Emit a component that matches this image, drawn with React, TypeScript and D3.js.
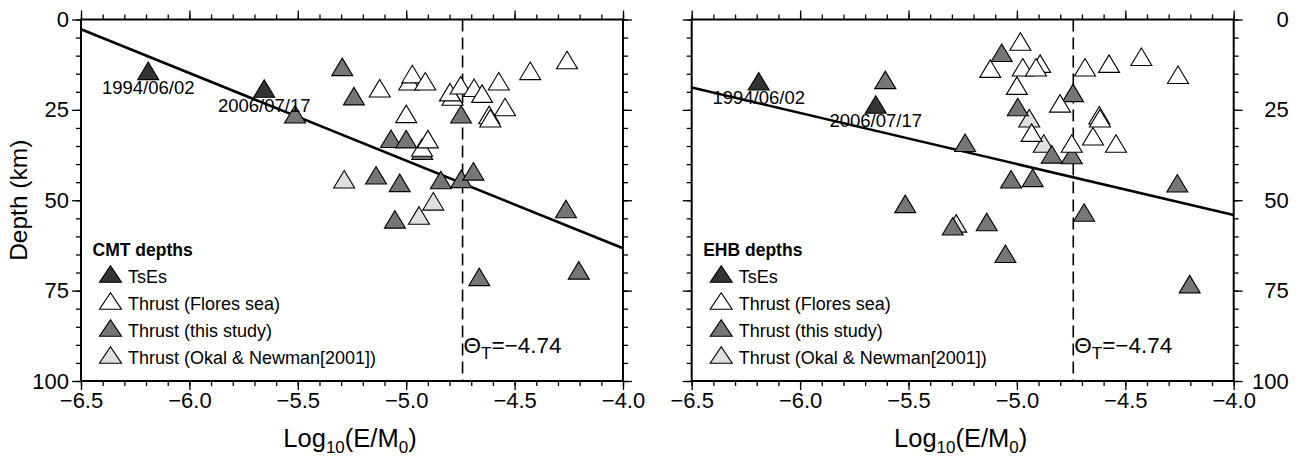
import { useEffect, useRef } from "react";
import * as d3 from "d3";

type Pt = [number, number]; // [log10(E/M0), depth in km]

const xTicks = [-6.5, -6.0, -5.5, -5.0, -4.5, -4.0];
const yTicks = [0, 25, 50, 75, 100];
const theta = -4.74;

const legendLabels = ["TsEs", "Thrust (Flores sea)", "Thrust (this study)", "Thrust (Okal & Newman[2001])"];
const tsesDates = ["1994/06/02", "2006/07/17"];

// CMT depths (left panel)
const cmtTses: Pt[] = [[-6.19, 14.2], [-5.655, 19.1]];
const cmtFlores: Pt[] = [
  [-5.122, 19.0], [-4.986, 17.1], [-4.972, 15.1], [-4.912, 17.1], [-5.0, 26.1],
  [-4.786, 21.3], [-4.798, 20.1], [-4.749, 18.2], [-4.687, 18.9], [-4.65, 20.5],
  [-4.573, 17.1], [-4.428, 14.2], [-4.258, 11.2], [-4.544, 24.2], [-4.617, 26.4],
  [-4.612, 27.3], [-4.927, 35.4], [-4.9, 33.1],
];
const cmtThisStudy: Pt[] = [
  [-5.295, 13.1], [-5.241, 21.2], [-5.513, 26.2], [-4.747, 26.2], [-5.07, 33.0],
  [-5.0, 33.1], [-4.926, 36.3], [-5.139, 43.1], [-5.03, 45.2], [-4.84, 44.4],
  [-4.746, 44.1], [-4.69, 42.0], [-5.052, 55.3], [-4.263, 52.4], [-4.663, 71.2],
  [-4.204, 69.4],
];
const cmtOkal: Pt[] = [[-5.286, 44.2], [-4.875, 50.3], [-4.941, 54.2]];
const cmtFit: Pt[] = [[-6.5, 2.7], [-4.0, 63.3]];

// EHB depths (right panel)
const ehbTses: Pt[] = [[-6.191, 17.1], [-5.651, 23.5]];
const ehbFlores: Pt[] = [
  [-4.984, 6.1], [-5.123, 13.6], [-4.973, 13.2], [-4.893, 12.2], [-4.912, 13.2],
  [-4.686, 13.2], [-4.575, 12.2], [-4.426, 10.3], [-4.257, 15.3], [-5.0, 18.3],
  [-4.801, 23.2], [-4.62, 26.5], [-4.617, 27.3], [-4.932, 31.3], [-4.649, 32.3],
  [-4.543, 34.3], [-4.747, 34.3],
];
const ehbThisStudy: Pt[] = [
  [-5.607, 16.7], [-5.239, 34.1], [-5.07, 9.2], [-4.741, 20.3], [-4.996, 24.2],
  [-4.839, 37.3], [-4.747, 37.5], [-5.027, 44.2], [-4.927, 43.8], [-4.26, 45.3],
  [-4.69, 53.4], [-5.139, 56.0], [-5.053, 64.8], [-4.203, 73.2], [-5.296, 57.2],
  [-5.515, 51.0],
];
const ehbOkal: Pt[] = [[-4.943, 27.3], [-4.876, 34.3], [-5.28, 56.4]];
const ehbFit: Pt[] = [[-6.5, 18.8], [-4.0, 54.1]];

const FONT = "'Liberation Sans', Arial, Helvetica, sans-serif";
const fills = { tses: "#333333", flores: "#ffffff", study: "#767676", okal: "#e0e0e0" };
const legendFills = [fills.tses, fills.flores, fills.study, fills.okal];

const TOP = 19.5;
const W = 542;
const H = 361.5;

// triangle centred on its bounding box
const TW = 21;
const TH = 17.5;
const tri = `M0,${-TH / 2}L${TW / 2},${TH / 2}L${-TW / 2},${TH / 2}Z`;

function drawPanel(svg, cfg) {
  const left = cfg.left;
  const x = d3.scaleLinear().domain([-6.5, -4.0]).range([left, left + W]);
  const y = d3.scaleLinear().domain([0, 100]).range([TOP, TOP + H]);
  const g = svg.append("g").attr("font-family", FONT);

  const minorX = d3.range(-6.5, -3.95, 0.1);
  const minorY = d3.range(0, 101, 5);
  const fmtX = d3.format(".1f");

  const styleAxis = (a) => {
    a.select(".domain").remove();
    a.selectAll("line").attr("stroke", "#000").attr("stroke-width", 1.3);
    a.selectAll("text").attr("font-size", 22).attr("fill", "#000").attr("font-family", FONT);
  };

  // bottom
  g.append("g").attr("transform", `translate(0,${y(100)})`)
    .call(d3.axisBottom(x).tickValues(minorX).tickSize(5).tickFormat(() => "")).call(styleAxis);
  g.append("g").attr("transform", `translate(0,${y(100)})`)
    .call(d3.axisBottom(x).tickValues(xTicks).tickSize(9).tickPadding(2).tickFormat(fmtX)).call(styleAxis);
  // top
  g.append("g").attr("transform", `translate(0,${y(0)})`)
    .call(d3.axisTop(x).tickValues(minorX).tickSize(5).tickFormat(() => "")).call(styleAxis);
  g.append("g").attr("transform", `translate(0,${y(0)})`)
    .call(d3.axisTop(x).tickValues(xTicks).tickSize(9).tickFormat(() => "")).call(styleAxis);
  // left
  g.append("g").attr("transform", `translate(${left},0)`)
    .call(d3.axisLeft(y).tickValues(minorY).tickSize(5).tickFormat(() => "")).call(styleAxis);
  g.append("g").attr("transform", `translate(${left},0)`)
    .call(d3.axisLeft(y).tickValues(yTicks).tickSize(9).tickPadding(3)
      .tickFormat(cfg.labelsLeft ? d3.format("d") : () => "")).call(styleAxis);
  // right
  g.append("g").attr("transform", `translate(${left + W},0)`)
    .call(d3.axisRight(y).tickValues(minorY).tickSize(5).tickFormat(() => "")).call(styleAxis);
  const ra = g.append("g").attr("transform", `translate(${left + W},0)`)
    .call(d3.axisRight(y).tickValues(yTicks).tickSize(9)
      .tickFormat(cfg.labelsLeft ? () => "" : d3.format("d"))).call(styleAxis);
  ra.selectAll("text").attr("text-anchor", "end").attr("x", 55);

  // frame
  g.append("rect").attr("x", left).attr("y", TOP).attr("width", W).attr("height", H)
    .attr("fill", "none").attr("stroke", "#000").attr("stroke-width", 2);

  // threshold
  g.append("line").attr("x1", x(theta)).attr("x2", x(theta)).attr("y1", y(0)).attr("y2", y(100))
    .attr("stroke", "#000").attr("stroke-width", 1.6).attr("stroke-dasharray", "12,6");

  // fit line
  const line = d3.line<Pt>().x((d) => x(d[0])).y((d) => y(d[1]));
  g.append("path").attr("d", line(cfg.fit)).attr("fill", "none").attr("stroke", "#000").attr("stroke-width", 2.6);

  // points
  const groups: [Pt[], string][] = [
    [cfg.okal, fills.okal], [cfg.study, fills.study], [cfg.flores, fills.flores], [cfg.tses, fills.tses],
  ];
  groups.forEach(([pts, fill]) => {
    g.append("g").selectAll("path").data(pts).join("path")
      .attr("d", tri)
      .attr("transform", (d) => `translate(${x(d[0])},${y(d[1])})`)
      .attr("fill", fill).attr("stroke", "#000").attr("stroke-width", 1.1);
  });

  // TsEs dates
  g.append("g").selectAll("text").data(cfg.tses).join("text")
    .attr("x", (d) => x(d[0])).attr("y", (d) => y(d[1]) + 23)
    .attr("text-anchor", "middle").attr("font-size", 18.5)
    .text((d, i) => tsesDates[i]);

  // theta label
  const th = g.append("text").attr("x", x(theta) + 1).attr("y", 353).attr("font-size", 22.5);
  th.append("tspan").text("\u0398");
  th.append("tspan").attr("font-size", 17).attr("dy", 6).text("T");
  th.append("tspan").attr("dy", -6).text("=\u22124.74");

  // legend
  const lg = g.append("g");
  lg.append("text").attr("x", left + 11.5).attr("y", 255.5).attr("font-size", 17.5).attr("font-weight", "bold")
    .text(cfg.title);
  legendLabels.forEach((lab, i) => {
    const cy = 274 + i * 27;
    lg.append("path").attr("d", tri).attr("transform", `translate(${left + 29.5},${cy}) scale(1.05,0.95)`)
      .attr("fill", legendFills[i]).attr("stroke", "#000").attr("stroke-width", 1.1);
    lg.append("text").attr("x", left + 47).attr("y", cy + 8.5).attr("font-size", 18).text(lab);
  });

  // x title
  const xt = g.append("text").attr("x", left + W / 2 - 2).attr("y", 446.5)
    .attr("text-anchor", "middle").attr("font-size", 25.5);
  xt.append("tspan").text("Log");
  xt.append("tspan").attr("font-size", 17).attr("dy", 6).text("10");
  xt.append("tspan").attr("dy", -6).text("(E/M");
  xt.append("tspan").attr("font-size", 17).attr("dy", 6).text("0");
  xt.append("tspan").attr("dy", -6).text(")");
}

export default function App() {
  const ref = useRef<SVGSVGElement>(null);

  useEffect(() => {
    const svg = d3.select(ref.current);
    svg.selectAll("*").remove();

    drawPanel(svg, {
      left: 81, labelsLeft: true, title: "CMT depths",
      tses: cmtTses, flores: cmtFlores, study: cmtThisStudy, okal: cmtOkal, fit: cmtFit,
    });
    drawPanel(svg, {
      left: 691.7, labelsLeft: false, title: "EHB depths",
      tses: ehbTses, flores: ehbFlores, study: ehbThisStudy, okal: ehbOkal, fit: ehbFit,
    });

    svg.append("text")
      .attr("transform", `translate(27,${TOP + H / 2}) rotate(-90)`)
      .attr("text-anchor", "middle").attr("font-family", FONT).attr("font-size", 24.5)
      .text("Depth (km)");
  }, []);

  return (
    <svg ref={ref} width={1300} height={457}
      style={{ position: "absolute", left: 0, top: 0, background: "#fff" }} />
  );
}
